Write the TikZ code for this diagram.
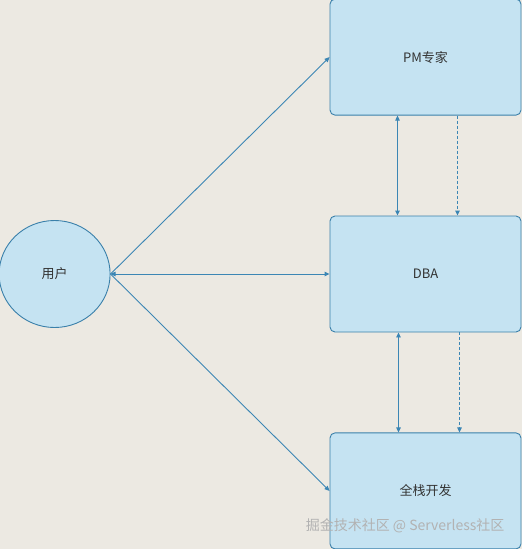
\documentclass[tikz,border=0pt]{standalone}
\usepackage{fontspec}
\newfontfamily\cjk{Noto Sans CJK SC}
\usetikzlibrary{positioning,arrows.meta,shapes.geometric}
\definecolor{PaperBg}{RGB}{236,233,226}
\definecolor{RoleFill}{RGB}{197,227,242}
\definecolor{RoleLine}{RGB}{58,128,170}
\definecolor{LinkBlue}{RGB}{60,134,180}
\definecolor{LabelInk}{RGB}{51,51,51}
\tikzset{
  link/.style={-{Triangle[length=5pt,width=4.5pt]},line width=0.9pt,draw=LinkBlue},
  duplex/.style={{Triangle[length=5pt,width=4.5pt]}-{Triangle[length=5pt,width=4.5pt]},line width=0.9pt,draw=LinkBlue},
  dashlink/.style={-{Triangle[length=5pt,width=4.5pt]},line width=0.9pt,dash pattern=on 3pt off 2pt,draw=LinkBlue},
  rolebox/.style={draw=RoleLine,fill=RoleFill,rounded corners=5pt,line width=0.9pt,
    minimum width=191pt,minimum height=116pt,align=center,
    font=\cjk\fontsize{13}{15}\selectfont,text=LabelInk},
  userdisc/.style={ellipse,draw=RoleLine,fill=RoleFill,line width=0.9pt,
    minimum width=111pt,minimum height=107pt,
    font=\cjk\fontsize{13}{15}\selectfont,text=LabelInk}
}
\begin{document}
\begin{tikzpicture}[x=1pt,y=1pt]
  \fill[PaperBg] (0,0) rectangle (522,-549);
  \useasboundingbox (0,0) rectangle (522,-549);

  \node[rolebox] (dba) at (425.5,-274) {DBA};
  \node[rolebox,above=100pt of dba] (pm) {PM专家};
  \node[rolebox,below=100pt of dba] (fullstack) {全栈开发};
  \node[userdisc,left=219pt of dba] (user) {用户};

  \draw[link] (user.east) -- (pm.west);
  \draw[duplex] (user.east) -- (dba.west);
  \draw[link] (user.east) -- (fullstack.west);

  \draw[duplex] ([xshift=-28pt]pm.south) -- ([xshift=-28pt]dba.north);
  \draw[dashlink] ([xshift=32pt]pm.south) -- ([xshift=32pt]dba.north);
  \draw[duplex] ([xshift=-27pt]dba.south) -- ([xshift=-27pt]fullstack.north);
  \draw[dashlink] ([xshift=34pt]dba.south) -- ([xshift=34pt]fullstack.north);

  \node[anchor=east,font=\cjk\fontsize{14}{16}\selectfont,text=gray!60] (mark) at (508,-526) {掘金技术社区 @ Serverless社区};
\end{tikzpicture}
\end{document}
